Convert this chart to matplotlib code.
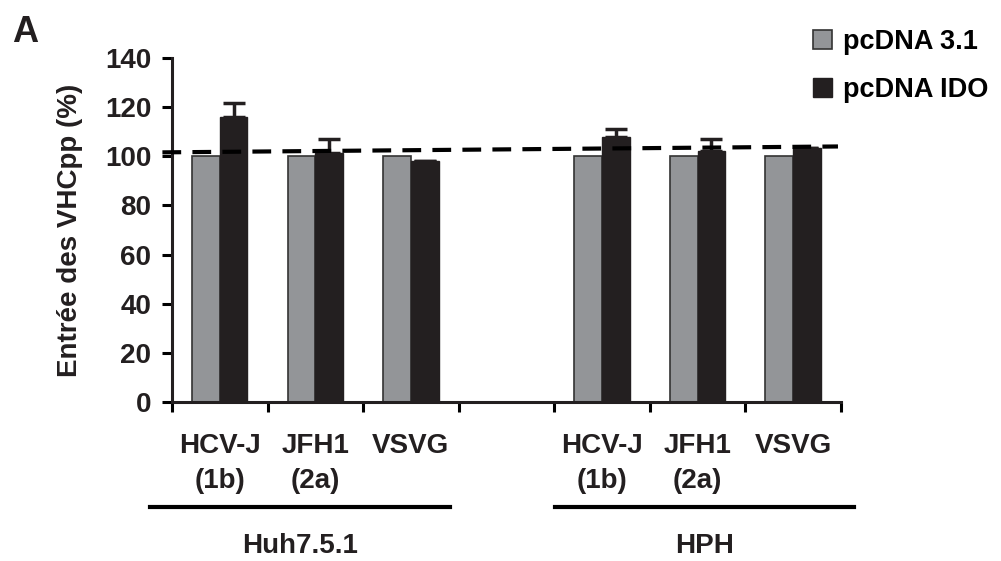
import numpy as np
import matplotlib.pyplot as plt
import matplotlib.transforms as mtransforms

plt.rcParams['font.family'] = ['Liberation Sans', 'DejaVu Sans']
plt.rcParams['font.weight'] = 'bold'

# data
labels = ['HCV-J\n(1b)', 'JFH1\n(2a)', 'VSVG', '', 'HCV-J\n(1b)', 'JFH1\n(2a)', 'VSVG']
ctrl = [100, 100, 100, np.nan, 100, 100, 100]
ido = [115.9, 101.5, 98.0, np.nan, 108.0, 102.3, 103.2]
ido_err = [5.7, 5.5, 0.0, np.nan, 3.0, 4.7, 0.0]
groups = ['Huh7.5.1', 'HPH']
group_span = [(-0.73, 2.41), (3.51, 6.64)]
ref_x = [-0.6, 6.47]
ref_y = [101.6, 104.0]

gray = '#939598'
black = '#231f20'

fig = plt.figure(figsize=(10.01, 5.61), dpi=100)
ax = fig.add_axes([0.1718, 0.2834, 0.6682, 0.6132])

x = np.arange(len(labels))
w = 0.29
ax.bar(x - w / 2, ctrl, w, color=gray, edgecolor='#333333', linewidth=1.2,
       label='pcDNA 3.1', zorder=2)
ax.bar(x + w / 2, ido, w, color=black, edgecolor=black, linewidth=1.0,
       label='pcDNA IDO', zorder=2)
err = np.array(ido_err)
ax.errorbar(x + w / 2, ido, yerr=[np.zeros_like(err), err], fmt='none',
            ecolor=black, elinewidth=2.5, capsize=8, capthick=2.5, zorder=3)

# dashed reference line around 100 %
ax.plot(ref_x, ref_y, color='black', lw=3, dashes=(4.5, 2.7), clip_on=False, zorder=4)

ax.set_xlim(-0.5, 6.5)
ax.set_ylim(0, 140)
ax.set_yticks(np.arange(0, 141, 20))
ax.set_xticks(np.arange(-0.5, 7, 1))
ax.set_xticklabels([])
ax.set_xticks(x, minor=True)
ax.set_xticklabels(labels, minor=True)
ax.tick_params(axis='x', which='minor', length=0, pad=22, labelsize=20)
ax.tick_params(axis='x', which='major', direction='out', length=7, width=2.2)
ax.tick_params(axis='y', direction='out', length=7, width=2.2, pad=8, labelsize=20)
for lab in ax.get_xticklabels(minor=True) + ax.get_yticklabels():
    lab.set_fontweight('bold')
    lab.set_color(black)
for lab in ax.get_xticklabels(minor=True):
    lab.set_linespacing(1.45)

for s in ['top', 'right']:
    ax.spines[s].set_visible(False)
for s in ['left', 'bottom']:
    ax.spines[s].set_linewidth(2.2)
    ax.spines[s].set_color(black)

ax.set_ylabel('Entrée des VHCpp (%)', fontsize=20, fontweight='bold', color=black, labelpad=16)

# group underlines and names
trans = mtransforms.blended_transform_factory(ax.transData, fig.transFigure)
for name, (a, b) in zip(groups, group_span):
    ax.plot([a, b], [1 - 507 / 561, 1 - 507 / 561], color='black', lw=3,
            transform=trans, clip_on=False)
    ax.text((a + b) / 2, 1 - 546 / 561, name, transform=trans, ha='center', va='center',
            fontsize=20, fontweight='bold', color=black)

fig.text(0.012, 1 - 32 / 561, 'A', fontsize=26, fontweight='bold', va='center', color=black)

leg = fig.legend(loc='upper left', bbox_to_anchor=(813 / 1001, 1 - 29 / 561), frameon=False,
                 handlelength=0.7, handleheight=0.7, handletextpad=0.4,
                 borderpad=0, borderaxespad=0, labelspacing=0.82,
                 prop={'weight': 'bold', 'size': 19.5})

fig.savefig('out.png', dpi=100)
